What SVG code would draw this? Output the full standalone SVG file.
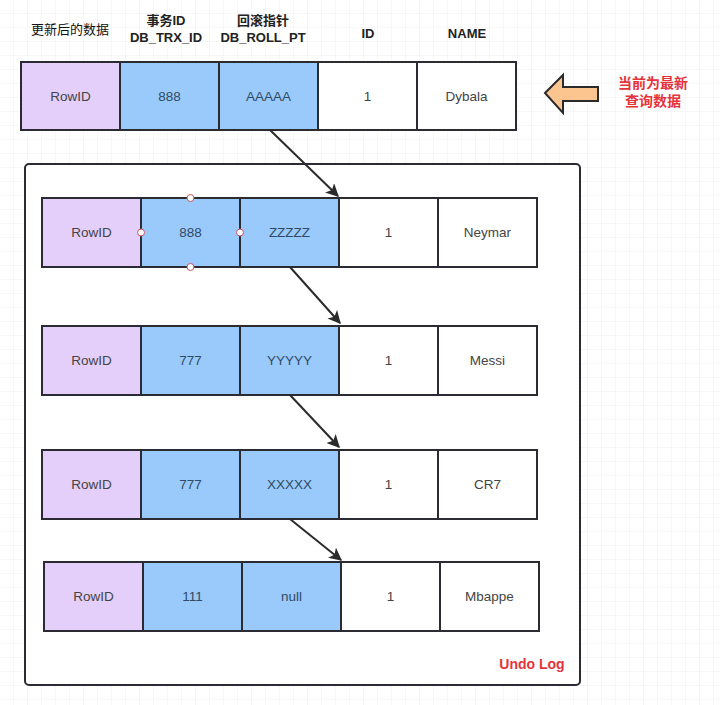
<svg xmlns="http://www.w3.org/2000/svg" width="720" height="705" viewBox="0 0 720 705">
<style>
.cell{stroke:#2b2b33;stroke-width:2}
.p{fill:#e3cff9}
.b{fill:#9acafb}
.w{fill:#ffffff}
.t{font-family:"Liberation Sans","Noto Sans CJK SC",sans-serif;font-size:13.5px;fill:#444;text-anchor:middle;dominant-baseline:central}
.tb{fill:#2f4a66}
.h{font-family:"Liberation Sans","Noto Sans CJK SC",sans-serif;font-size:13px;font-weight:bold;fill:#222;text-anchor:middle}
.hn{font-weight:normal;fill:#111}
.red{font-family:"Liberation Sans","Noto Sans CJK SC",sans-serif;font-size:14px;font-weight:bold;fill:#e5333c;text-anchor:middle}
.conn{stroke:#2b2b2b;stroke-width:2;fill:none}
.hd{fill:#fff;stroke:#d05060;stroke-width:1}
</style>
<defs>
<pattern id="grid" width="14" height="14" patternUnits="userSpaceOnUse">
<path d="M14 0V14M0 14H14" fill="none" stroke="#eeeeee" stroke-width="1"/>
</pattern>
<marker id="ah" viewBox="0 0 10 10" refX="9" refY="5" markerWidth="6.5" markerHeight="6.5" orient="auto" markerUnits="strokeWidth">
<path d="M0 0L10 5L0 10L2.5 5Z" fill="#2b2b2b"/>
</marker>
</defs>
<rect width="720" height="705" fill="#fff"/>
<rect width="720" height="705" fill="url(#grid)"/>

<g id="headers">
<text class="h hn" x="70" y="34">更新后的数据</text>
<text class="h" x="166" y="25">事务ID</text>
<text class="h" x="166" y="42">DB_TRX_ID</text>
<text class="h" x="263" y="25">回滚指针</text>
<text class="h" x="263" y="42">DB_ROLL_PT</text>
<text class="h" x="368" y="38">ID</text>
<text class="h" x="467" y="38">NAME</text>
</g>

<g id="undolog">
<rect x="25" y="164" width="555" height="521" rx="4" fill="#fff" stroke="#2b2b33" stroke-width="2"/>
<text class="red" x="532" y="669">Undo Log</text>
</g>

<g id="row0">
<rect class="cell p" x="21" y="62" width="99" height="68"/>
<rect class="cell b" x="120" y="62" width="99" height="68"/>
<rect class="cell b" x="219" y="62" width="99" height="68"/>
<rect class="cell w" x="318" y="62" width="99" height="68"/>
<rect class="cell w" x="417" y="62" width="99" height="68"/>
<text class="t" x="70.5" y="96">RowID</text>
<text class="t tb" x="169.5" y="96">888</text>
<text class="t tb" x="268.5" y="96">AAAAA</text>
<text class="t" x="367.5" y="96">1</text>
<text class="t" x="466.5" y="96">Dybala</text>
</g>

<g id="row1">
<rect class="cell p" x="42" y="198" width="99" height="69"/>
<rect class="cell b" x="141" y="198" width="99" height="69"/>
<rect class="cell b" x="240" y="198" width="99" height="69"/>
<rect class="cell w" x="339" y="198" width="99" height="69"/>
<rect class="cell w" x="438" y="198" width="99" height="69"/>
<text class="t" x="91.5" y="232.5">RowID</text>
<text class="t tb" x="190.5" y="232.5">888</text>
<text class="t tb" x="289.5" y="232.5">ZZZZZ</text>
<text class="t" x="388.5" y="232.5">1</text>
<text class="t" x="487.5" y="232.5">Neymar</text>
<circle class="hd" cx="190.5" cy="198" r="3.5"/>
<circle class="hd" cx="190.5" cy="267" r="3.5"/>
<circle class="hd" cx="141" cy="232.5" r="3.5"/>
<circle class="hd" cx="240" cy="232.5" r="3.5"/>
</g>

<g id="row2">
<rect class="cell p" x="42" y="326" width="99" height="69"/>
<rect class="cell b" x="141" y="326" width="99" height="69"/>
<rect class="cell b" x="240" y="326" width="99" height="69"/>
<rect class="cell w" x="339" y="326" width="99" height="69"/>
<rect class="cell w" x="438" y="326" width="99" height="69"/>
<text class="t" x="91.5" y="360.5">RowID</text>
<text class="t tb" x="190.5" y="360.5">777</text>
<text class="t tb" x="289.5" y="360.5">YYYYY</text>
<text class="t" x="388.5" y="360.5">1</text>
<text class="t" x="487.5" y="360.5">Messi</text>
</g>

<g id="row3">
<rect class="cell p" x="42" y="450" width="99" height="69"/>
<rect class="cell b" x="141" y="450" width="99" height="69"/>
<rect class="cell b" x="240" y="450" width="99" height="69"/>
<rect class="cell w" x="339" y="450" width="99" height="69"/>
<rect class="cell w" x="438" y="450" width="99" height="69"/>
<text class="t" x="91.5" y="484.5">RowID</text>
<text class="t tb" x="190.5" y="484.5">777</text>
<text class="t tb" x="289.5" y="484.5">XXXXX</text>
<text class="t" x="388.5" y="484.5">1</text>
<text class="t" x="487.5" y="484.5">CR7</text>
</g>

<g id="row4">
<rect class="cell p" x="44" y="562" width="99" height="69"/>
<rect class="cell b" x="143" y="562" width="99" height="69"/>
<rect class="cell b" x="242" y="562" width="99" height="69"/>
<rect class="cell w" x="341" y="562" width="99" height="69"/>
<rect class="cell w" x="440" y="562" width="99" height="69"/>
<text class="t" x="93.5" y="596.5">RowID</text>
<text class="t tb" x="192.5" y="596.5">111</text>
<text class="t tb" x="291.5" y="596.5">null</text>
<text class="t" x="390.5" y="596.5">1</text>
<text class="t" x="489.5" y="596.5">Mbappe</text>
</g>

<g id="connectors">
<line class="conn" x1="270" y1="130" x2="338" y2="196" marker-end="url(#ah)"/>
<line class="conn" x1="290" y1="267" x2="340" y2="323" marker-end="url(#ah)"/>
<line class="conn" x1="290" y1="395" x2="339" y2="447" marker-end="url(#ah)"/>
<line class="conn" x1="290" y1="519" x2="341" y2="560" marker-end="url(#ah)"/>
</g>

<g id="current">
<path d="M545 93L563 75V87H598V101H563V113Z" fill="#fcc590" stroke="#2b2b2b" stroke-width="2" stroke-linejoin="miter"/>
<text class="red" x="653" y="88">当前为最新</text>
<text class="red" x="653" y="106">查询数据</text>
</g>
</svg>
